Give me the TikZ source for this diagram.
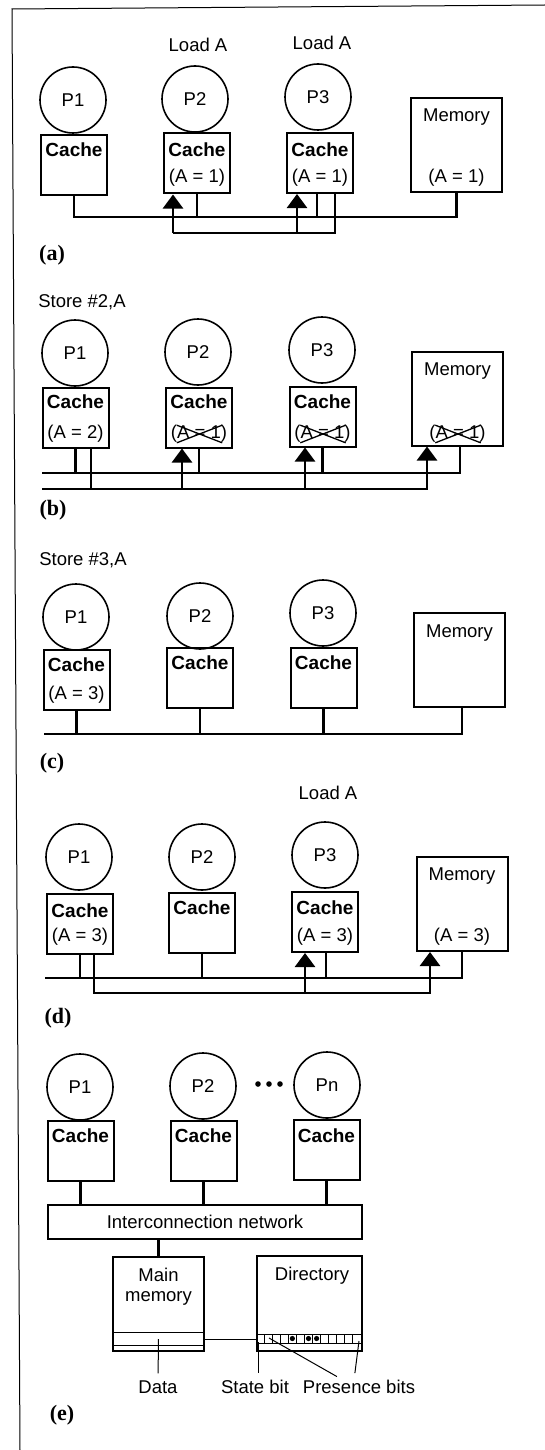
\documentclass[tikz,border=0pt]{standalone}
\usepackage{fontspec}
\setmainfont{Liberation Serif}
\newfontfamily\helv{Liberation Sans}
\usetikzlibrary{arrows.meta}
\begin{document}
\begin{tikzpicture}[
    x=1pt, y=-1pt,
    proc/.style={circle, draw, line width=1.6pt, minimum size=66pt, inner sep=0pt,
      font=\helv\fontsize{18.5pt}{20pt}\selectfont},
    cachebox/.style={draw, line width=2pt, minimum width=66pt, minimum height=60pt, inner sep=0pt},
    membox/.style={draw, line width=2pt, minimum width=91pt, minimum height=94pt, inner sep=0pt},
    txt/.style={inner sep=0pt, font=\helv\fontsize{18.5pt}{20pt}\selectfont},
    head/.style={inner sep=0pt, font=\helv\bfseries\fontsize{19pt}{21pt}\selectfont},
    tag/.style={inner sep=0pt, font=\bfseries\fontsize{22pt}{24pt}\selectfont},
    bus/.style={line width=2.6pt},
    fetch/.style={line width=2.6pt, -{Triangle[width=20pt,length=14pt]}},
    strike/.style={line width=1.3pt},
    leader/.style={line width=1pt}
  ]
  \useasboundingbox (0,0) rectangle (545,1450);
  \draw[line width=1pt] (545,5) -- (12,9) -- (20,1450);

  % (a)
  \node[txt] (lda2) at (198,45) {Load A};
  \node[txt] (lda3) at (322,43) {Load A};
  \node[proc] (p1a) at (73,100) {P1};
  \node[proc] (p2a) at (195,99) {P2};
  \node[proc] (p3a) at (318,97) {P3};
  \node[cachebox] (c1a) at (74,165) {};
  \node[cachebox] (c2a) at (197,163.5) {};
  \node[cachebox] (c3a) at (320,163) {};
  \node[membox] (ma) at (456.5,145) {};
  \node[head] (h1a) at (74,150) {Cache};
  \node[head] (h2a) at (197,150) {Cache};
  \node[head] (h3a) at (320,150) {Cache};
  \node[txt] (v2a) at (197,178) {(A = 1)};
  \node[txt] (v3a) at (320,178) {(A = 1)};
  \node[txt] (hma) at (456.5,117) {Memory};
  \node[txt] (vma) at (456.5,178) {(A = 1)};
  \coordinate (hia) at (0,217);
  \coordinate (loa) at (0,233);
  \draw[bus] (c1a.south) |- (ma.south |- hia) -- (ma.south);
  \draw[bus] (c2a.south) -- (c2a.south |- hia);
  \draw[bus] ([xshift=-3pt]c3a.south) -- ([xshift=-3pt]c3a.south |- hia);
  \draw[bus] ([xshift=15pt]c3a.south) |- ([xshift=-24pt]c2a.south |- loa);
  \draw[fetch] ([xshift=-24pt]c2a.south |- loa) -- ([xshift=-24pt]c2a.south);
  \draw[fetch] ([xshift=-23pt]c3a.south |- loa) -- ([xshift=-23pt]c3a.south);
  \node[tag] (taga) at (52,255) {(a)};

  % (b)
  \node[txt] (stb) at (82,302) {Store \#2,A};
  \node[proc] (p1b) at (75,353) {P1};
  \node[proc] (p2b) at (198,352) {P2};
  \node[proc] (p3b) at (322,350) {P3};
  \node[cachebox] (c1b) at (75.5,418) {};
  \node[cachebox] (c2b) at (199,417.5) {};
  \node[cachebox] (c3b) at (322.5,416.5) {};
  \node[membox] (mb) at (457.5,398.5) {};
  \node[head] (h1b) at (75.5,402) {Cache};
  \node[head] (h2b) at (199,402) {Cache};
  \node[head] (h3b) at (322.5,402) {Cache};
  \node[txt] (v1b) at (75.5,434) {(A = 2)};
  \node[txt] (v2b) at (199,434) {(A = 1)};
  \node[txt] (v3b) at (322.5,434) {(A = 1)};
  \node[txt] (hmb) at (457.5,371) {Memory};
  \node[txt] (vmb) at (457.5,434) {(A = 1)};
  \draw[strike] ([xshift=6pt]v2b.north west) -- ([xshift=-5pt]v2b.south east);
  \draw[strike] ([xshift=6pt]v2b.south west) -- ([xshift=-5pt]v2b.north east);
  \draw[strike] ([xshift=6pt]v3b.north west) -- ([xshift=-5pt]v3b.south east);
  \draw[strike] ([xshift=6pt]v3b.south west) -- ([xshift=-5pt]v3b.north east);
  \draw[strike] ([xshift=6pt]vmb.north west) -- ([xshift=-5pt]vmb.south east);
  \draw[strike] ([xshift=6pt]vmb.south west) -- ([xshift=-5pt]vmb.north east);
  \coordinate (hib) at (42,473);
  \coordinate (lob) at (42,489);
  \draw[bus] (hib) -| ([xshift=2.5pt]mb.south);
  \draw[bus] (c1b.south) -- (c1b.south |- hib);
  \draw[bus] (c2b.south) -- (c2b.south |- hib);
  \draw[bus] (c3b.south) -- (c3b.south |- hib);
  \draw[bus] ([xshift=15.5pt]c1b.south) -- ([xshift=15.5pt]c1b.south |- lob);
  \draw[fetch] (lob) -| ([xshift=-30.5pt]mb.south);
  \draw[fetch] ([xshift=-17pt]c2b.south |- lob) -- ([xshift=-17pt]c2b.south);
  \draw[fetch] ([xshift=-17.5pt]c3b.south |- lob) -- ([xshift=-17.5pt]c3b.south);
  \node[tag] (tagb) at (53,510) {(b)};

  % (c)
  \node[txt] (stc) at (83,560) {Store \#3,A};
  \node[proc] (p1c) at (76,617) {P1};
  \node[proc] (p2c) at (200,616) {P2};
  \node[proc] (p3c) at (323,613) {P3};
  \node[cachebox] (c1c) at (76.5,680) {};
  \node[cachebox] (c2c) at (200,678) {};
  \node[cachebox] (c3c) at (323.5,678) {};
  \node[membox] (mc) at (459.5,660) {};
  \node[head] (h1c) at (76.5,665) {Cache};
  \node[head] (h2c) at (200,663) {Cache};
  \node[head] (h3c) at (323.5,663) {Cache};
  \node[txt] (v1c) at (76.5,695) {(A = 3)};
  \node[txt] (hmc) at (459.5,633) {Memory};
  \coordinate (hic) at (44,734);
  \draw[bus] (hic) -| ([xshift=2.5pt]mc.south);
  \draw[bus] (c1c.south) -- (c1c.south |- hic);
  \draw[bus] (c2c.south) -- (c2c.south |- hic);
  \draw[bus] (c3c.south) -- (c3c.south |- hic);
  \node[tag] (tagc) at (52,763) {(c)};

  % (d)
  \node[txt] (ldd) at (328,793) {Load A};
  \node[proc] (p1d) at (79,857) {P1};
  \node[proc] (p2d) at (202,857) {P2};
  \node[proc] (p3d) at (325,855) {P3};
  \node[cachebox] (c1d) at (80,924) {};
  \node[cachebox] (c2d) at (202,923) {};
  \node[cachebox] (c3d) at (325,922) {};
  \node[membox] (md) at (462,904) {};
  \node[head] (h1d) at (80,911) {Cache};
  \node[head] (h2d) at (202,908) {Cache};
  \node[head] (h3d) at (325,908) {Cache};
  \node[txt] (v1d) at (80,937) {(A = 3)};
  \node[txt] (v3d) at (325,937) {(A = 3)};
  \node[txt] (hmd) at (462,876) {Memory};
  \node[txt] (vmd) at (462,937) {(A = 3)};
  \coordinate (hid) at (45,978);
  \coordinate (lod) at (0,993);
  \draw[bus] (hid) -| (md.south);
  \draw[bus] (c1d.south) -- (c1d.south |- hid);
  \draw[bus] (c2d.south) -- (c2d.south |- hid);
  \draw[bus] ([xshift=1pt]c3d.south) -- ([xshift=1pt]c3d.south |- hid);
  \draw[fetch] ([xshift=14pt]c1d.south) |- ([xshift=-32pt]md.south |- lod) -- ([xshift=-32pt]md.south);
  \draw[fetch] ([xshift=-20pt]c3d.south |- lod) -- ([xshift=-20pt]c3d.south);
  \node[tag] (tagd) at (58,1018) {(d)};

  % (e)
  \node[proc] (p1e) at (80,1087) {P1};
  \node[proc] (p2e) at (203,1086) {P2};
  \node[proc] (pne) at (327,1085) {Pn};
  \fill (258,1084) circle (2.8) (269,1084) circle (2.8) (280,1084) circle (2.8);
  \node[cachebox] (c1e) at (80.5,1151) {};
  \node[cachebox] (c2e) at (203.5,1151) {};
  \node[cachebox] (cne) at (326.5,1150) {};
  \node[head] (h1e) at (80.5,1136) {Cache};
  \node[head] (h2e) at (203.5,1136) {Cache};
  \node[head] (hne) at (326.5,1136) {Cache};
  \node[draw, line width=2pt, minimum width=314pt, minimum height=34pt, txt] (net) at (205,1222) {Interconnection network};
  \draw[bus] (c1e.south) -- (c1e.south |- net.north);
  \draw[bus] (c2e.south) -- (c2e.south |- net.north);
  \draw[bus] (cne.south) -- (cne.south |- net.north);
  \node[membox] (mm) at (158.5,1304) {};
  \node[txt, align=center] (mmt) at (158.5,1287) {Main\\memory};
  \draw[bus] (net.south -| mm.north) -- (mm.north);
  \draw[leader] ([yshift=20pt]mm.south west) -- ([yshift=20pt]mm.south east);
  \draw[leader] ([yshift=7pt]mm.south west) -- ([yshift=7pt]mm.south east);
  \node[membox, minimum width=105pt, minimum height=95pt] (dir) at (309.5,1303.5) {};
  \node[txt] (dirt) at (312,1276) {Directory};
  \draw[leader] ([yshift=18pt]dir.south west) -- ([yshift=18pt]dir.south east);
  \draw[leader] ([yshift=9pt]dir.south west) -- ([yshift=9pt]dir.south east);
  \foreach \i in {1,...,12}
    \draw[leader] ([xshift={\i*8.08pt}, yshift=18pt]dir.south west) -- ++(0,9);
  \foreach \i in {4,6,7}
    \fill ([xshift={(\i+0.5)*8.08pt}, yshift=13.5pt]dir.south west) circle (2.6);
  \draw[leader] ([yshift=13pt]mm.south east) -- ([yshift=13pt]dir.south west);
  \node[txt] (data) at (158,1387) {Data};
  \node[txt] (state) at (255,1387) {State bit};
  \node[txt] (pres) at (359,1387) {Presence bits};
  \draw[leader, shorten >=7pt] ([yshift=13pt]mm.south) -- (data.north);
  \draw[leader, shorten >=7pt] ([xshift=2pt,yshift=10pt]dir.south west) -- ([xshift=2pt]dir.south west |- state.north);
  \draw[leader, shorten >=7pt] ([xshift=13pt,yshift=14pt]dir.south west) -- ([xshift=-16pt]pres.north);
  \draw[leader, shorten >=7pt] ([xshift=-4pt,yshift=11pt]dir.south east) -- ([xshift=-5pt]pres.north);
  \node[tag] (tage) at (62,1415) {(e)};
\end{tikzpicture}
\end{document}
